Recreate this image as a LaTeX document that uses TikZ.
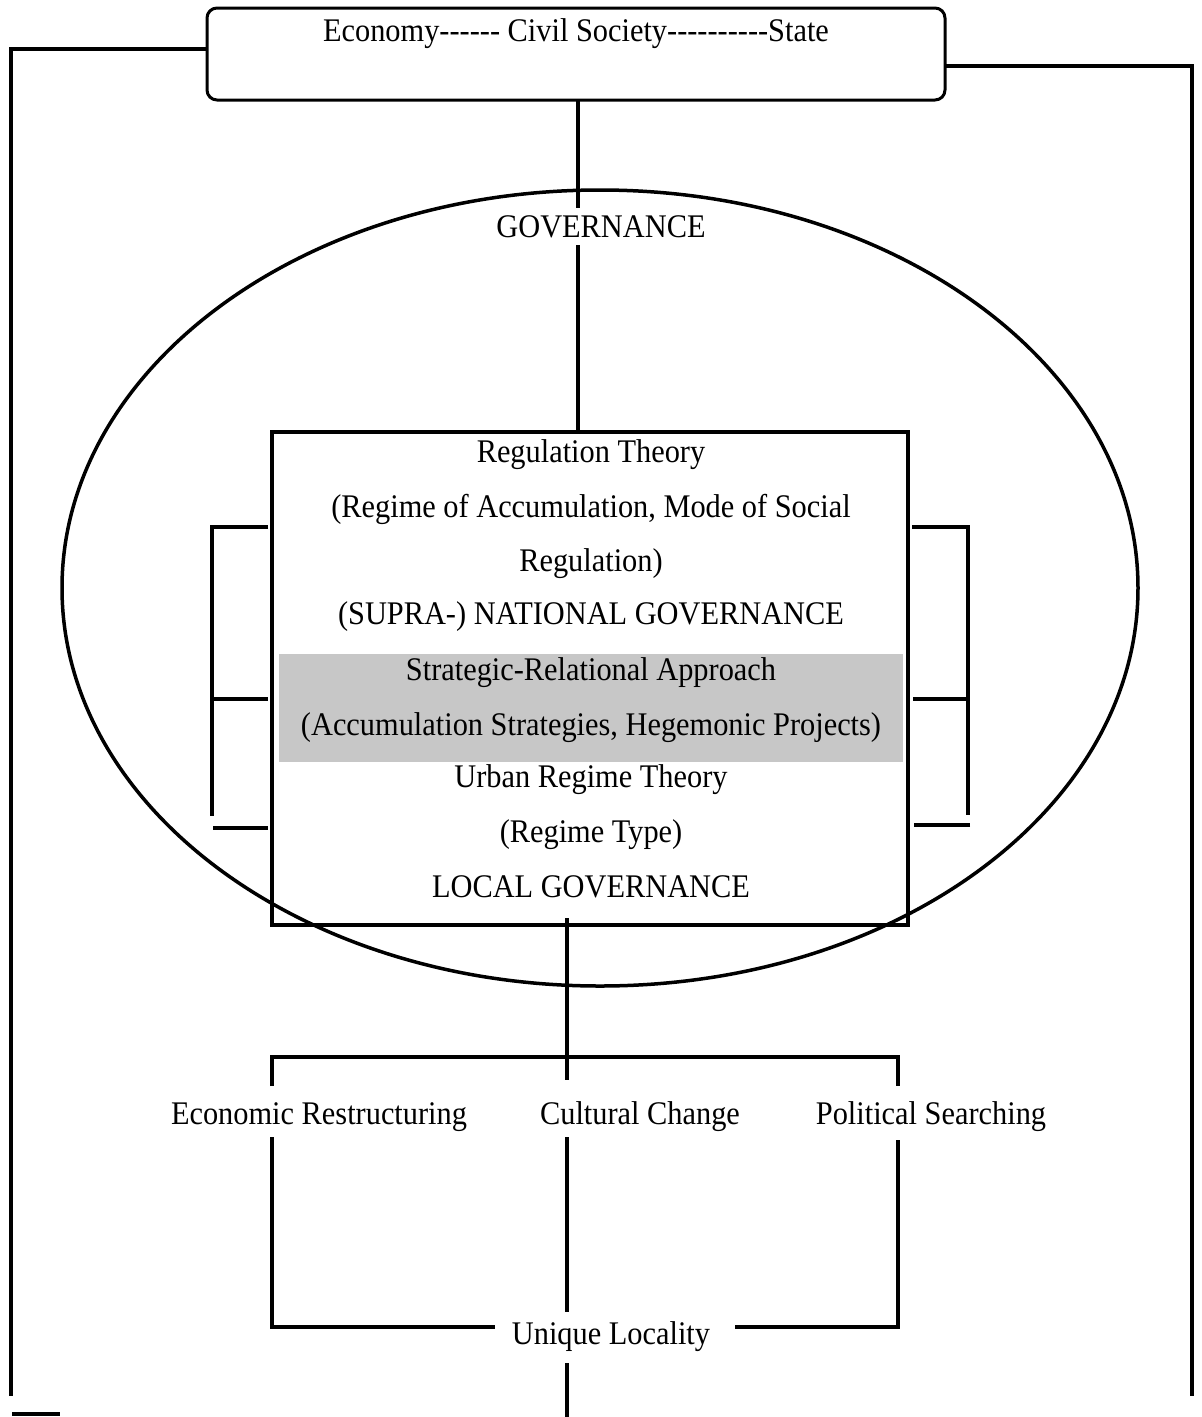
\documentclass[tikz,border=0pt]{standalone}
\usepackage{fontspec}
\setmainfont[FakeStretch=0.92]{Liberation Serif}
\usetikzlibrary{shapes.geometric}
\begin{document}
\begin{tikzpicture}[x=1pt,y=-1pt,line width=3.5pt,
  lbl/.style={font=\fontsize{33}{40}\selectfont,inner sep=0pt,anchor=base},
  conn/.style={draw=black,line width=3.5pt}]
\useasboundingbox[fill=white] (0,0) rectangle (1202,1417);
% top box
\node[draw,rounded corners=10pt,minimum width=738pt,minimum height=92pt,line width=3pt] (top) at (576,54) {};
\node[lbl] (toptext) at (576,41) {Economy-{}-{}-{}-{}-{}- Civil Society-{}-{}-{}-{}-{}-{}-{}-{}-{}-State};
% gray band
\fill[black!22] (279,654) rectangle (903,762);
% ellipse
\node[draw,ellipse,minimum width=1076pt,minimum height=796pt,inner sep=0pt] (ell) at (600,588) {};
% inner rectangle
\node[draw,minimum width=636pt,minimum height=493pt,inner sep=0pt] (inner) at (590,678.5) {};
% GOVERNANCE
\node[lbl] (gov) at (601,237) {GOVERNANCE};
% inner texts
\node[lbl] (t1) at (591,462) {Regulation Theory};
\node[lbl] (t2) at (591,517) {(Regime of Accumulation, Mode of Social};
\node[lbl] (t3) at (591,571) {Regulation)};
\node[lbl] (t4) at (591,624) {(SUPRA-) NATIONAL GOVERNANCE};
\node[lbl] (t5) at (591,680) {Strategic-Relational Approach};
\node[lbl] (t6) at (591,735) {(Accumulation Strategies, Hegemonic Projects)};
\node[lbl] (t7) at (591,787) {Urban Regime Theory};
\node[lbl] (t8) at (591,842) {(Regime Type)};
\node[lbl] (t9) at (591,897) {LOCAL GOVERNANCE};
% lower texts
\node[lbl] (econ) at (319,1124) {Economic Restructuring};
\node[lbl] (cult) at (640,1124) {Cultural Change};
\node[lbl] (pol) at (931,1124) {Political Searching};
\node[lbl] (uniq) at (611,1344) {Unique Locality};
% coordinates
\coordinate (tl) at (207,49);
\coordinate (tlc) at (11,49);
\coordinate (tlb) at (11,1396);
\coordinate (tr) at (945,66);
\coordinate (trc) at (1192,66);
\coordinate (trb) at (1192,1396);
\coordinate (bl1) at (12,1414);
\coordinate (bl2) at (60,1414);
\coordinate (c1) at (578,100);
\coordinate (c2) at (578,208);
\coordinate (c3) at (578,245);
\coordinate (c4) at (578,432);
% frame connectors
\draw[conn] (tl) -- (tlc) -- (tlb);
\draw[conn] (tr) -- (trc) -- (trb);
\draw[conn] (bl1) -- (bl2);
% central connectors
\draw[conn] (c1) -- (c2);
\draw[conn] (c3) -- (c4);
% brackets
\coordinate (lb1) at (212,527); \coordinate (lb1r) at (268,527);
\coordinate (lb2) at (212,699); \coordinate (lb2r) at (268,699);
\coordinate (lb3) at (212,816);
\coordinate (lb4) at (213,828); \coordinate (lb4r) at (268,828);
\draw[conn] (lb1r) -- (lb1) -- (lb3);
\draw[conn] (lb2) -- (lb2r);
\draw[conn] (lb4) -- (lb4r);
\coordinate (rb1) at (968,527); \coordinate (rb1l) at (912,527);
\coordinate (rb2) at (968,699); \coordinate (rb2l) at (913,699);
\coordinate (rb3) at (968,815);
\coordinate (rb4) at (970,825); \coordinate (rb4l) at (914,825);
\draw[conn] (rb1l) -- (rb1) -- (rb3);
\draw[conn] (rb2) -- (rb2l);
\draw[conn] (rb4) -- (rb4l);
% lower tree
\coordinate (m1) at (567,918);
\coordinate (m2) at (567,1080);
\coordinate (h1) at (272,1057);
\coordinate (h2) at (898,1057);
\coordinate (h1b) at (272,1086);
\coordinate (h2b) at (898,1086);
\draw[conn] (m1) -- (m2);
\draw[conn] (h1b) -- (h1) -- (h2) -- (h2b);
\coordinate (l1) at (272,1137); \coordinate (l2) at (272,1327); \coordinate (l3) at (495,1327);
\coordinate (r1) at (898,1140); \coordinate (r2) at (898,1327); \coordinate (r3) at (735,1327);
\coordinate (mm1) at (567,1137); \coordinate (mm2) at (567,1312);
\coordinate (mb1) at (567,1363); \coordinate (mb2) at (567,1417);
\draw[conn] (l1) -- (l2) -- (l3);
\draw[conn] (r1) -- (r2) -- (r3);
\draw[conn] (mm1) -- (mm2);
\draw[conn] (mb1) -- (mb2);
\end{tikzpicture}
\end{document}
